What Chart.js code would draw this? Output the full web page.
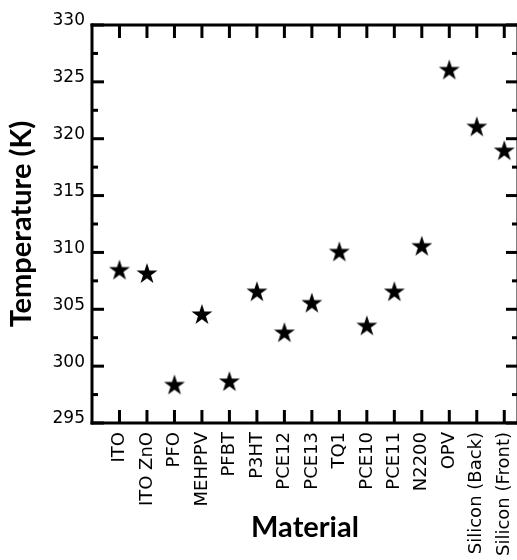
<!DOCTYPE html>
<html>
<head>
<meta charset="utf-8">
<script src="https://cdn.jsdelivr.net/npm/chart.js@4/dist/chart.umd.min.js"></script>
<style>
  html, body { margin: 0; padding: 0; background: #fff; overflow: hidden; }
</style>
</head>
<body>
<canvas id="chart" width="530" height="560"></canvas>
<script>
const materials = ['ITO', 'ITO ZnO', 'PFO', 'MEHPPV', 'PFBT', 'P3HT', 'PCE12', 'PCE13', 'TQ1', 'PCE10', 'PCE11', 'N2200', 'OPV', 'Silicon (Back)', 'Silicon (Front)'];
const temperatures = [308.4, 308.1, 298.3, 304.5, 298.6, 306.5, 302.9, 305.5, 310.0, 303.5, 306.5, 310.5, 326.0, 321.0, 318.9];
const yMin = 295;
const yMax = 330;
const yMajorStep = 5;
const yMinorStep = 2.5;

// filled five-point star used as the marker
function makeStar(r) {
  const size = Math.ceil(r * 2) + 2;
  const c = document.createElement('canvas');
  c.width = size;
  c.height = size;
  const g = c.getContext('2d');
  g.fillStyle = '#000';
  g.beginPath();
  for (let i = 0; i < 10; i++) {
    const rad = i % 2 ? r * 0.382 : r;
    const a = -Math.PI / 2 + i * Math.PI / 5;
    const px = size / 2 + rad * Math.cos(a);
    const py = size / 2 + rad * Math.sin(a);
    if (i === 0) g.moveTo(px, py); else g.lineTo(px, py);
  }
  g.closePath();
  g.fill();
  return c;
}

// box frame with inward ticks on all four sides, plus the x title
const frameTicks = {
  id: 'frameTicks',
  afterDraw(chart) {
    const ctx = chart.ctx;
    const a = chart.chartArea;
    const x = chart.scales.x;
    const y = chart.scales.y;
    const w = 3;
    ctx.save();
    ctx.fillStyle = '#000';
    // frame
    ctx.fillRect(a.left - 1.5, a.top - 1.5, a.right - a.left + 3, 3);
    ctx.fillRect(a.left - 1.5, a.bottom - 1.5, a.right - a.left + 3, 3);
    ctx.fillRect(a.left - 1.5, a.top - 1.5, 3, a.bottom - a.top + 3);
    ctx.fillRect(a.right - 1.5, a.top - 1.5, 3, a.bottom - a.top + 3);
    // x ticks, bottom and top
    for (let i = 0; i < materials.length; i++) {
      const px = x.getPixelForValue(i + 1);
      ctx.fillRect(px - w / 2, a.bottom - 13, w, 13);
      ctx.fillRect(px - w / 2, a.top, w, 13);
    }
    // y ticks, left and right
    for (let v = yMin; v <= yMax; v += yMinorStep) {
      const py = y.getPixelForValue(v);
      const len = v % yMajorStep === 0 ? 12 : 6;
      ctx.fillRect(a.left, py - w / 2, len, w);
      ctx.fillRect(a.right - len, py - w / 2, len, w);
    }
    ctx.font = 'bold 29px Lato';
    ctx.textAlign = 'center';
    ctx.textBaseline = 'alphabetic';
    ctx.fillText('Material', (a.left + a.right) / 2, a.bottom + 114);
    ctx.restore();
  }
};

Chart.defaults.font.family = "'DejaVu Sans', sans-serif";
Chart.defaults.color = '#000';

new Chart(document.getElementById('chart'), {
  type: 'scatter',
  data: {
    datasets: [{
      label: 'Temperature',
      data: temperatures.map((t, i) => ({ x: i + 1, y: t })),
      pointStyle: makeStar(11),
      pointRadius: 11,
      pointHoverRadius: 11,
      backgroundColor: '#000',
      borderColor: '#000'
    }]
  },
  options: {
    responsive: false,
    animation: false,
    devicePixelRatio: 1,
    layout: { padding: { top: 25, right: 2, left: 0, bottom: 0 } },
    plugins: {
      legend: { display: false },
      tooltip: { enabled: false }
    },
    scales: {
      x: {
        type: 'linear',
        min: 0,
        max: materials.length + 0.5,
        afterBuildTicks: scale => {
          scale.ticks = materials.map((_, i) => ({ value: i + 1 }));
        },
        afterFit: scale => {
          scale.height = 137;
          scale.paddingLeft = 0;
          scale.paddingRight = 0;
        },
        grid: { display: false, drawTicks: false },
        border: { display: false },
        ticks: {
          autoSkip: false,
          minRotation: 90,
          maxRotation: 90,
          padding: 9,
          font: { size: 18 },
          callback: v => materials[v - 1] || ''
        }
      },
      y: {
        min: yMin,
        max: yMax,
        afterFit: scale => { scale.width = 92; },
        grid: { display: false, drawTicks: false },
        border: { display: false },
        ticks: {
          stepSize: yMinorStep,
          padding: 7,
          labelOffset: -4,
          font: { size: 17 },
          callback: v => (v % yMajorStep === 0 ? v : '')
        },
        title: {
          display: true,
          text: 'Temperature (K)',
          padding: { top: 4, bottom: 0 },
          font: { family: 'Lato', size: 29, weight: 'bold' }
        }
      }
    }
  },
  plugins: [frameTicks]
});
</script>
</body>
</html>
